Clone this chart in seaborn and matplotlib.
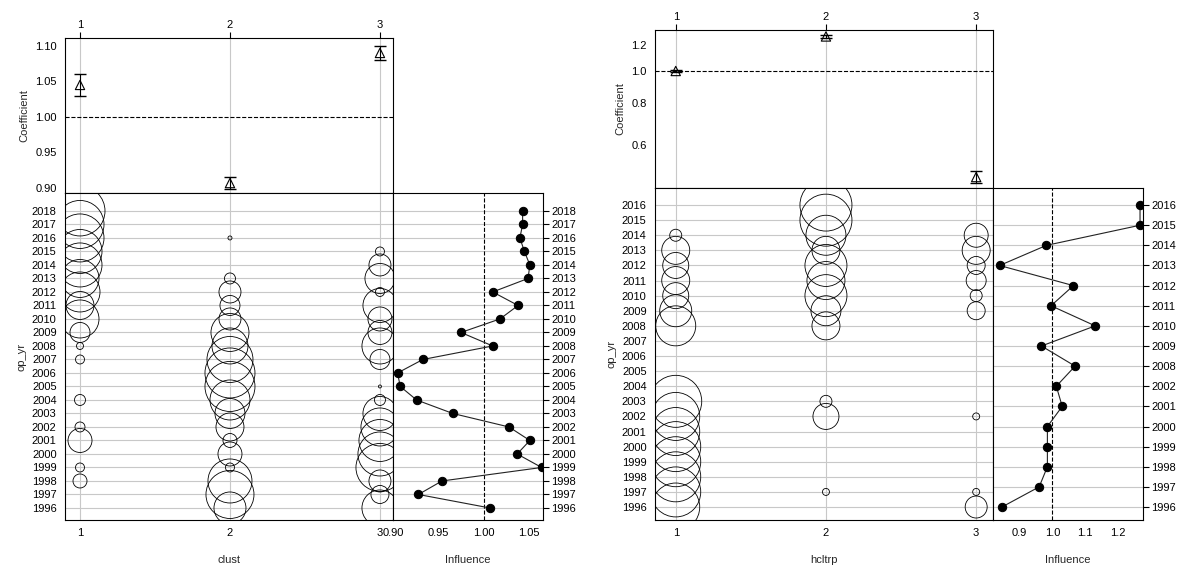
import numpy as np
import matplotlib
matplotlib.use("Agg")
import matplotlib.pyplot as plt
import seaborn as sns
import pandas as pd

sns.set_style("white")
plt.rcParams['font.family'] = ['Liberation Sans', 'DejaVu Sans']
plt.rcParams['font.size'] = 8

# ---- left chart data (clust) ----
L_years = list(range(1996, 2019))
L_coef = [1.045, 0.907, 1.090]
L_err = [0.015, 0.008, 0.010]
L_infl = [1.007, 0.928, 0.954, 1.064, 1.037, 1.051, 1.028, 0.966, 0.926, 0.908, 0.905, 0.933,
          1.010, 0.975, 1.018, 1.038, 1.010, 1.049, 1.051, 1.045, 1.040, 1.043, 1.043]
L_r1 = [0, 0, 7, 4.5, 0, 12, 5, 0, 5.5, 0, 0, 4.5, 3.5, 10, 19, 14, 20, 19, 22, 22, 24, 24, 25]
L_r2 = [16, 24, 22, 4.5, 12, 7, 14, 15, 20, 25, 25, 23, 18, 19, 11, 10, 11, 5.5, 0, 0, 2, 0, 0]
L_r3 = [18, 9, 11, 24, 22, 21, 19, 17, 5.5, 1.5, 0, 10, 18, 12, 12, 17, 4.5, 15, 11, 4.5, 0, 0, 0]

# ---- right chart data (hcltrp) ----
R_years = list(range(1996, 2017))
R_coef = [1.00, 1.27, 0.48]
R_err = [0.01, 0.012, 0.02]
R_labels = ['1996', '1997', '1998', '1999', '2000', '2001', '2002', '2008', '2009', '2010',
            '2011', '2012', '2013', '2014', '2015', '2016']
R_infl = [0.847, 0.960, 0.985, 0.985, 0.985, 1.030, 1.012, 1.069, 0.967, 1.130,
          0.996, 1.064, 0.840, 0.982, 1.266, 1.266]
R_r1 = [24, 25, 25, 25, 25, 24, 24, 26, 0, 0, 0, 0, 20, 16, 13, 14, 13, 14, 6, 0, 0]
R_r2 = [0, 3.5, 0, 0, 0, 0, 13, 6, 0, 0, 0, 0, 14, 15, 21, 19, 21, 14, 20, 26, 26]
R_r3 = [11, 3.5, 0, 0, 0, 0, 3.5, 0, 0, 0, 0, 0, 0, 9, 6, 10, 9, 14, 12, 0, 0]

W, H = 1194, 571
fig = plt.figure(figsize=(W / 100, H / 100), dpi=100)


def rect(x0, y0, x1, y1):
    return [x0 / W, 1 - y1 / H, (x1 - x0) / W, (y1 - y0) / H]


GRID = '#c8c8c8'


def r2s(r):
    return (2 * np.array(r, float) * 0.72) ** 2


def build(xs, coef, err, years, radii, infl, infl_pos, infl_labels, cat_name,
          coef_lim, coef_ticks, coef_log, cat_lim, ylim, infl_lim, infl_ticks, infl_ticklabels,
          ipos_lim):
    x0, x1, x2, ytop, ymid, ybot = xs
    axc = fig.add_axes(rect(x0, ytop, x1, ymid))
    cats = [1, 2, 3]
    for c in cats:
        axc.axvline(c, color=GRID, lw=0.8, zorder=0)
    if coef_log:
        axc.set_yscale('log')
    axc.errorbar(cats, coef, yerr=err, fmt='none', ecolor='black', elinewidth=0.8, capsize=4)
    sns.scatterplot(x=cats, y=coef, ax=axc, marker='^', s=45, facecolor='none',
                    edgecolor='black', linewidth=0.8, zorder=3)
    axc.axhline(1.0, color='black', ls='--', lw=0.8)
    axc.set_xlim(cat_lim)
    axc.set_ylim(coef_lim)
    axc.set_yticks(coef_ticks)
    axc.set_yticklabels([('%.2f' % t) if not coef_log else ('%.1f' % t) for t in coef_ticks])
    axc.yaxis.set_minor_locator(matplotlib.ticker.NullLocator())
    axc.yaxis.set_minor_formatter(matplotlib.ticker.NullFormatter())
    axc.xaxis.tick_top()
    axc.set_xticks(cats)
    axc.set_xticklabels(['1', '2', '3'])
    axc.tick_params(direction='out', length=4, width=0.8, colors='black', pad=2)
    axc.set_ylabel('Coefficient')
    for s in axc.spines.values():
        s.set_linewidth(0.8)
        s.set_color('black')

    axd = fig.add_axes(rect(x0, ymid, x1, ybot))
    for y in years:
        axd.axhline(y, color=GRID, lw=0.8, zorder=0)
    for c in cats:
        axd.axvline(c, color=GRID, lw=0.8, zorder=0)
    rows = []
    for c, rr in zip(cats, radii):
        for y, r in zip(years, rr):
            if r > 0:
                rows.append((c, y, r))
    df = pd.DataFrame(rows, columns=['cat', 'year', 'r'])
    sns.scatterplot(data=df, x='cat', y='year', ax=axd, s=r2s(df['r']), facecolor='none',
                    edgecolor='black', linewidth=0.6, legend=False, zorder=2, clip_on=True)
    axd.set_xlim(cat_lim)
    axd.set_ylim(ylim)
    axd.set_yticks(years)
    axd.set_yticklabels([str(y) for y in years])
    axd.set_xticks(cats)
    axd.set_xticklabels(['1', '2', '3'])
    axd.set_xlabel(cat_name, labelpad=12)
    axd.set_ylabel('op_yr')
    axd.tick_params(direction='out', length=4, width=0.8, colors='black', pad=2)
    for s in axd.spines.values():
        s.set_linewidth(0.8)
        s.set_color('black')

    axi = fig.add_axes(rect(x1, ymid, x2, ybot))
    for p in infl_pos:
        axi.axhline(p, color=GRID, lw=0.8, zorder=0)
    axi.axvline(1.0, color='black', ls='--', lw=0.8)
    dfi = pd.DataFrame({'infl': infl, 'pos': infl_pos})
    sns.lineplot(data=dfi, x='infl', y='pos', ax=axi, sort=False, estimator=None,
                 color='#222222', lw=0.8, marker='o', markersize=6,
                 markerfacecolor='black', markeredgecolor='black')
    axi.set_xlim(infl_lim)
    axi.set_ylim(ipos_lim)
    axi.set_xticks(infl_ticks)
    axi.set_xticklabels(infl_ticklabels)
    axi.set_xlabel('Influence', labelpad=12)
    axi.set_ylabel('')
    axi.yaxis.tick_right()
    axi.set_yticks(infl_pos)
    axi.set_yticklabels(infl_labels)
    axi.tick_params(direction='out', length=4, width=0.8, colors='black', pad=2)
    for s in axi.spines.values():
        s.set_linewidth(0.8)
        s.set_color('black')


build((65, 393, 543, 38, 193, 520), L_coef, L_err, L_years, [L_r1, L_r2, L_r3],
      L_infl, L_years, [str(y) for y in L_years], 'clust',
      (0.893, 1.111), [0.90, 0.95, 1.00, 1.05, 1.10], False, (0.9, 3.087),
      (1995.11, 2019.33), (0.90, 1.0655), [0.90, 0.95, 1.00, 1.05],
      ['0.90', '0.95', '1.00', '1.05'], (1995.11, 2019.33))

idx = list(range(len(R_labels)))
build((655, 993, 1143, 30, 188, 520), R_coef, R_err, R_years, [R_r1, R_r2, R_r3],
      R_infl, idx, R_labels, 'hcltrp',
      (0.445, 1.328), [0.6, 0.8, 1.0, 1.2], True, (0.862, 3.112),
      (1995.14, 2017.13), (0.82, 1.275), [0.9, 1.0, 1.1, 1.2],
      ['0.9', '1.0', '1.1', '1.2'], (-0.645, 15.85))

fig.savefig('out.png', dpi=100)
